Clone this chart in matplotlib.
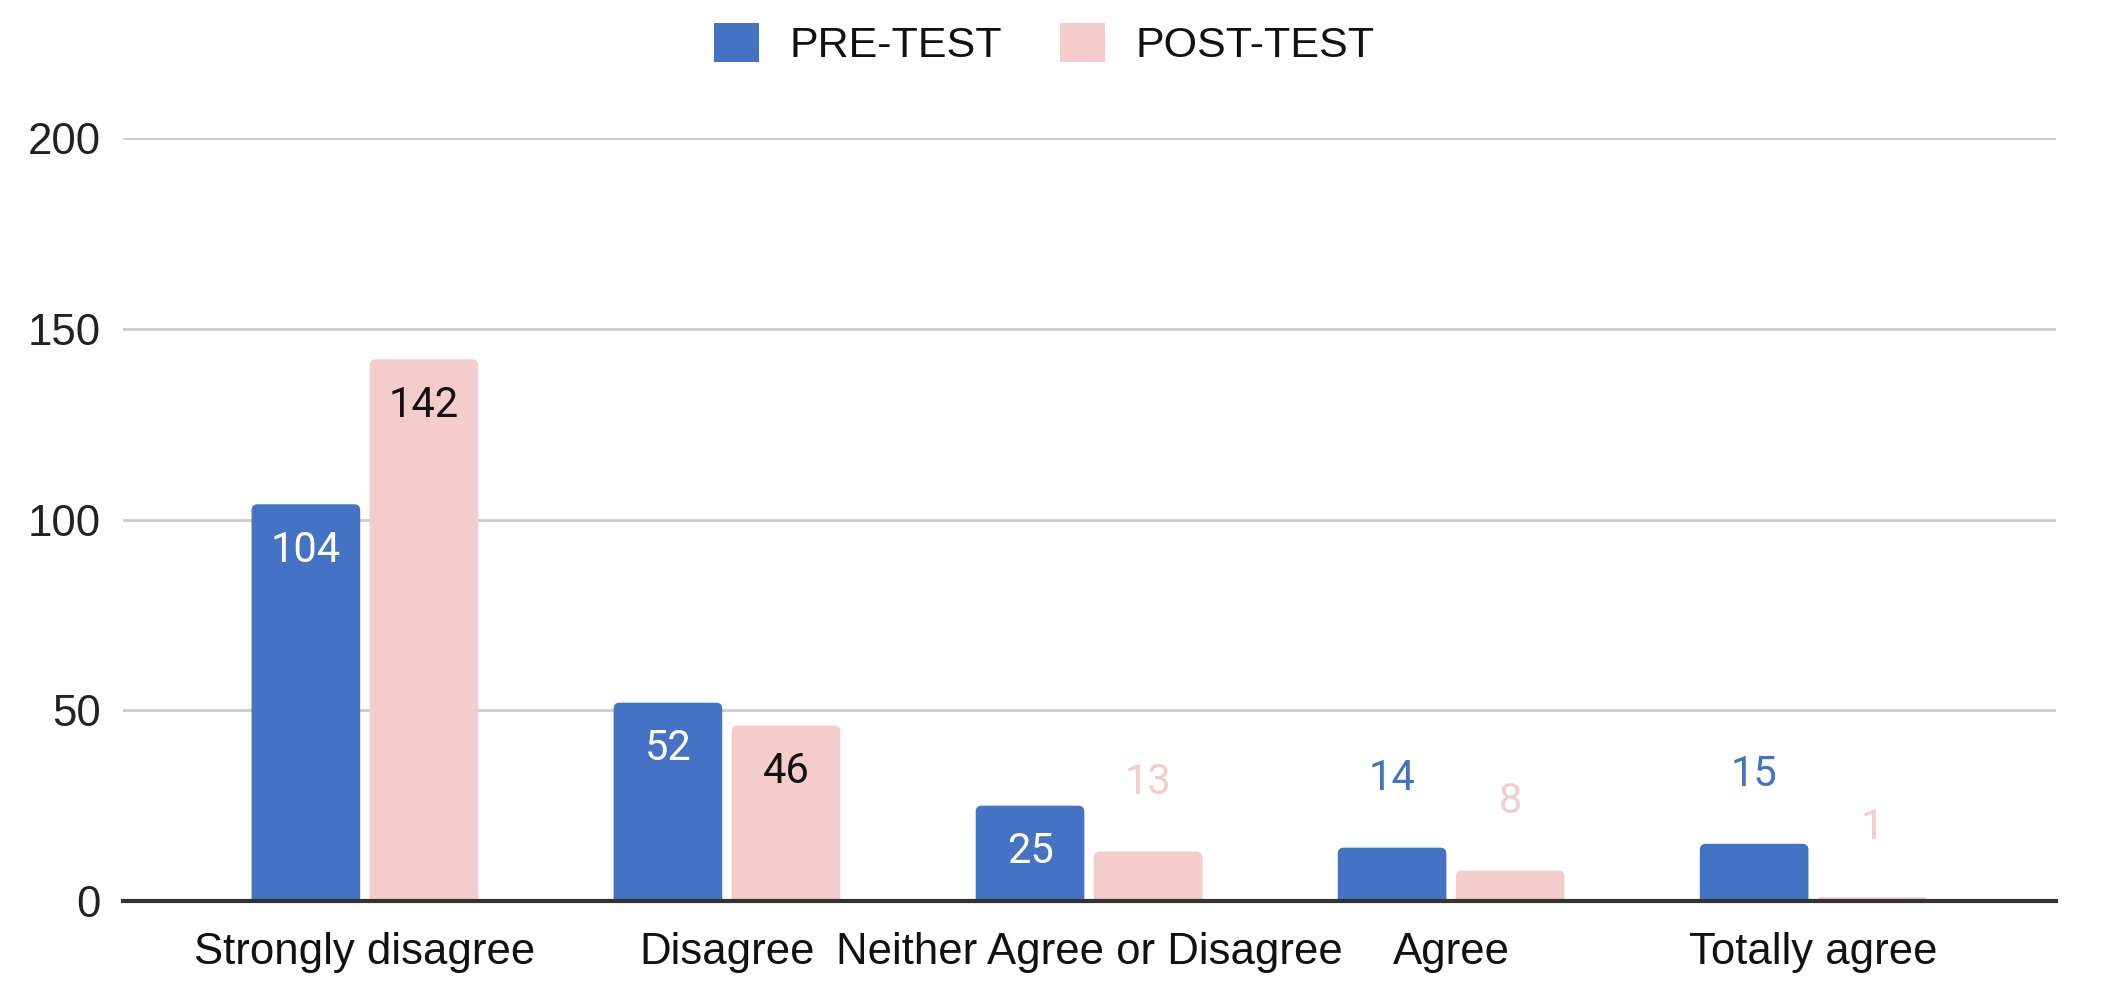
import matplotlib
matplotlib.use("Agg")
import matplotlib.pyplot as plt
import numpy as np
from matplotlib.patches import Patch, FancyBboxPatch

categories = ["Strongly disagree", "Disagree", "Neither Agree or Disagree", "Agree", "Totally agree"]
pre_test = [104, 52, 25, 14, 15]
post_test = [142, 46, 13, 8, 1]
series_names = ["PRE-TEST", "POST-TEST"]
y_ticks = [0, 50, 100, 150, 200]

BLUE = "#4472C4"
PINK = "#F4CCCC"

fig = plt.figure(figsize=(21.03, 9.93), dpi=100)
ax = fig.add_axes([0.0585, 0.0926, 0.9192, 0.7684])

x = np.arange(len(categories))
w = 0.30
off = 0.163
b1 = ax.bar(x - off, pre_test, w, color=BLUE, zorder=3)
b2 = ax.bar(x + off, post_test, w, color=PINK, zorder=3)

ax.set_xlim(-0.668, len(categories) - 1 + 0.671)
ax.set_ylim(0, 200)
ax.set_yticks(y_ticks)
ax.set_xticks(x)
ax.set_xticklabels(categories, fontsize=31.5, family="Liberation Sans", color="#111111")
ax.tick_params(axis="y", labelsize=31.5, length=0, pad=16, labelcolor="#222222")
ax.tick_params(axis="x", length=0, pad=22)
for lab in ax.get_yticklabels():
    lab.set_family("Liberation Sans")

ax.grid(axis="y", color="#cccccc", linewidth=2, zorder=0)
for s in ["top", "right", "left"]:
    ax.spines[s].set_visible(False)
ax.spines["bottom"].set_color("#333333")
ax.spines["bottom"].set_linewidth(3)
ax.spines["bottom"].set_zorder(4)

# rounded top corners: replace each bar with a rounded box extending below 0 (clipped)
fig.canvas.draw()
p0 = ax.transData.transform((0, 0))
p1 = ax.transData.transform((1, 1))
px_per_x = p1[0] - p0[0]
px_per_y = p1[1] - p0[1]
aspect = px_per_x / px_per_y
for bars in (b1, b2):
    for rect in bars:
        h = rect.get_height()
        hp = h * px_per_y
        r_px = min(6.0, max(hp / 2.0, 0.5))
        rs = r_px / px_per_x
        ext = 3.0
        box = FancyBboxPatch((rect.get_x(), -ext), rect.get_width(), h + ext,
                             boxstyle=f"round,pad=0,rounding_size={rs}",
                             mutation_aspect=aspect, facecolor=rect.get_facecolor(),
                             edgecolor="none", zorder=3)
        ax.add_patch(box)
        rect.set_visible(False)

def label(bars, vals, bar_color, inside_color):
    for rect, v in zip(bars, vals):
        cx = rect.get_x() + rect.get_width() / 2
        if v >= 20:
            ax.annotate(str(v), (cx, v), xytext=(0, -33), textcoords="offset points",
                        ha="center", va="center", fontsize=30, family="Roboto",
                        color=inside_color, zorder=5)
        else:
            ax.annotate(str(v), (cx, v), xytext=(0, 50), textcoords="offset points",
                        ha="center", va="center", fontsize=30, family="Roboto",
                        color=bar_color, zorder=5)

label(b1, pre_test, BLUE, "white")
label(b2, post_test, PINK, "#111111")

handles = [Patch(facecolor=BLUE, edgecolor="none"), Patch(facecolor=PINK, edgecolor="none")]
fig.legend(handles, series_names, loc="center", bbox_to_anchor=(0.4965, 0.955), ncol=2,
           frameon=False, prop={"family": "Liberation Sans", "size": 31},
           handlelength=1.05, handleheight=1.0, handletextpad=0.7, columnspacing=1.35,
           labelcolor="#111111")

fig.savefig("out.png", dpi=100, facecolor="white")
